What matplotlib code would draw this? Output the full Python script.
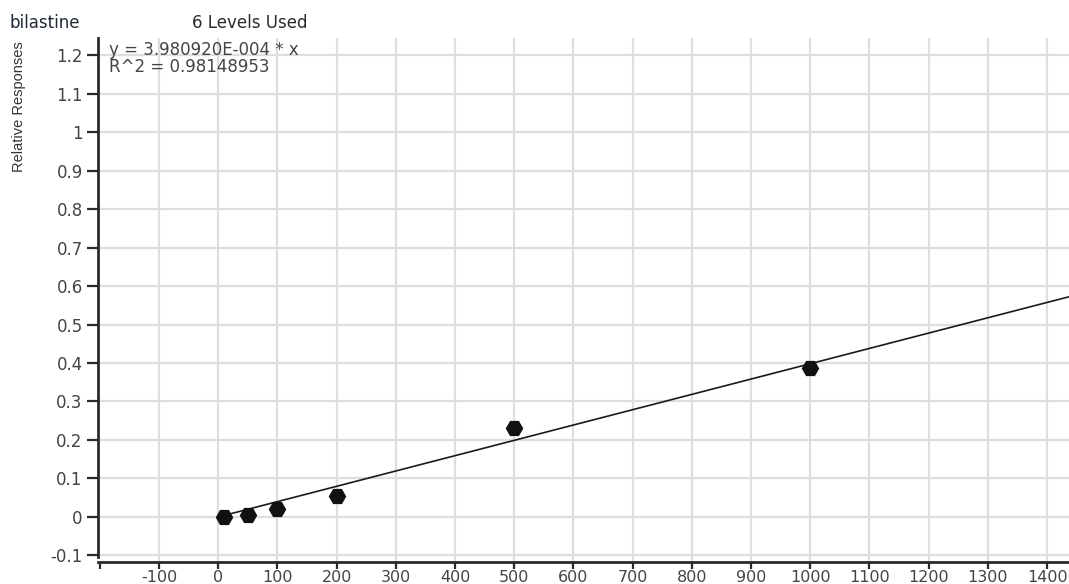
import numpy as np
import matplotlib.pyplot as plt

plt.rcParams['font.family'] = ['DejaVu Sans']

# calibration levels and measured relative responses
conc = [10, 50, 100, 200, 500, 1000]
resp = [0.0, 0.006, 0.020, 0.054, 0.232, 0.388]

# linear fit through origin
slope = 3.980920e-4
r2 = 0.98148953

xticks = list(range(-100, 1401, 100))
yticks = [-0.1, 0, 0.1, 0.2, 0.3, 0.4, 0.5, 0.6, 0.7, 0.8, 0.9, 1, 1.1, 1.2]
ytick_labels = ['-0.1', '0', '0.1', '0.2', '0.3', '0.4', '0.5', '0.6', '0.7',
                '0.8', '0.9', '1', '1.1', '1.2']

fig = plt.figure(figsize=(10.69, 5.84), dpi=100)
ax = fig.add_axes([0.0917, 0.0377, 0.9083, 0.897])

grid_col = '#dedede'
axis_col = '#2a2a2a'
text_col = '#444444'

xfit = np.array([conc[0], 1450])
ax.plot(xfit, slope * xfit, color='#1a1a1a', lw=1.2, zorder=3)
ax.plot(conc, resp, linestyle='none', marker='H', markersize=11.5,
        color='#111111', zorder=4)

ax.set_xlim(-203, 1437)
ax.set_ylim(-0.117, 1.244)
ax.set_xticks(xticks)
ax.set_xticklabels([str(v) for v in xticks])
ax.set_xticks([-200], minor=True)
ax.set_yticks(yticks)
ax.set_yticklabels(ytick_labels)

ax.grid(True, which='major', color=grid_col, lw=1.6)
ax.set_axisbelow(True)
for s in ['top', 'right']:
    ax.spines[s].set_visible(False)
for s in ['left', 'bottom']:
    ax.spines[s].set_color(axis_col)
    ax.spines[s].set_linewidth(2)
ax.spines['left'].set_bounds(-0.104, 1.244)

ax.tick_params(axis='y', colors=axis_col, labelcolor=text_col,
               labelsize=12, length=8, width=1.6, pad=3)
ax.tick_params(axis='x', which='both', colors=axis_col, labelcolor=text_col,
               labelsize=11.5, length=5, width=1.6, pad=1)

ax.set_ylabel('Relative Responses', fontsize=10.5, color='#333333',
              family=['Liberation Sans Narrow', 'Liberation Sans'])
ax.yaxis.set_label_coords(-0.074, 0.87)

ax.text(0.011, 0.994, 'y = 3.980920E-004 * x', transform=ax.transAxes,
        fontsize=12, color=text_col, va='top')
ax.text(0.011, 0.962, f'R^2 = {r2:.8f}', transform=ax.transAxes,
        fontsize=12, color=text_col, va='top')

fig.text(0.009, 0.952, 'bilastine', fontsize=12, color='#1f2a36',
         va='baseline')
fig.text(0.18, 0.952, '6 Levels Used', fontsize=12, color='#2a2a2a',
         va='baseline')

fig.savefig('out.png', dpi=100)
